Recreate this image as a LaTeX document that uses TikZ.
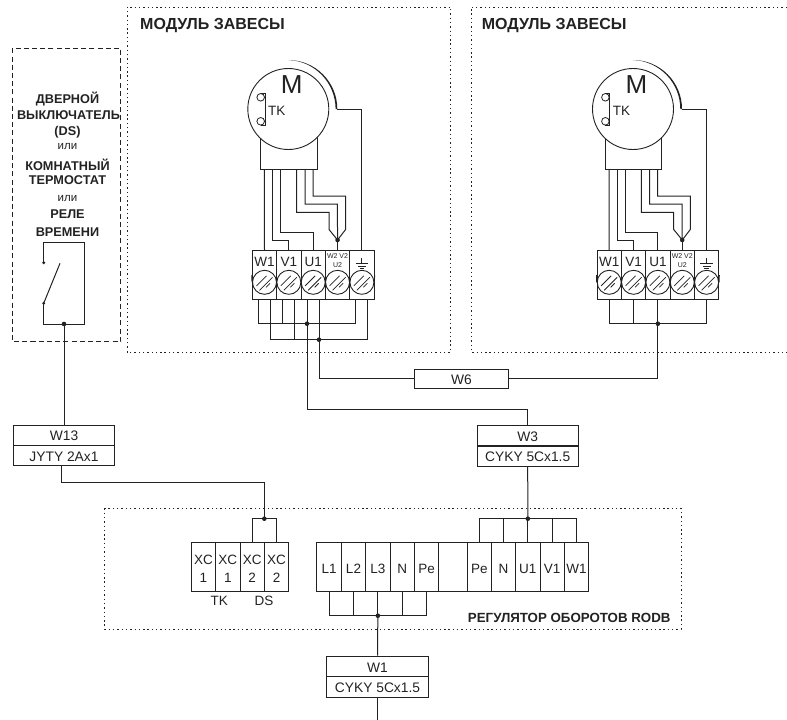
\documentclass[tikz,border=0pt]{standalone}
\usepackage{fontspec}
\setmainfont{Liberation Sans}
\usetikzlibrary{calc}
\definecolor{ink}{HTML}{222222}
\tikzset{
  wire/.style={draw=ink,line width=1pt,line join=miter},
  dotline/.style={draw=ink,line width=0.8pt,dash pattern=on 1.4pt off 2.9pt},
  dashbox/.style={draw=ink,line width=0.9pt,dash pattern=on 5pt off 3.2pt},
  cell/.style={draw=ink,line width=1pt,rectangle,minimum width=24.35pt,minimum height=48.6pt,inner sep=0pt},
  ctext/.style={label={[inner sep=0pt,text=ink,align=center,font=\fontsize{13.5}{18}\selectfont,yshift=-1.6pt]center:#1}},
  capcell/.style={draw=ink,line width=1pt,rectangle,minimum width=101.4pt,minimum height=20.4pt,inner sep=0pt},
  captext/.style={label={[inner sep=0pt,text=ink,font=\fontsize{13.8}{15}\selectfont,yshift=-1pt]center:#1}},
  jdot/.style={circle,fill=ink,minimum size=4.6pt,inner sep=0pt},
  sdot/.style={circle,fill=ink,minimum size=3.2pt,inner sep=0pt},
  txt/.style={inner sep=0pt,text=ink},
  boldtxt/.style={inner sep=0pt,text=ink,font=\bfseries\fontsize{12.7}{14}\selectfont},
  headtxt/.style={inner sep=0pt,text=ink,anchor=west,font=\bfseries\fontsize{16}{18}\selectfont},
  screw/.style={circle,draw=ink,line width=0.9pt,minimum size=24pt,inner sep=0pt},
  slash/.style={draw=ink,line width=0.75pt},
}
% #1 = name prefix, #2 = x shift
\newcommand{\curtainmodule}[2]{%
\begin{scope}[xshift=#2pt]
  % motor
  \draw[wire,fill=white] (260.3,136) -- (260.3,169.3) -- (317,169.3) -- (317,136);
  \node[circle,draw=ink,line width=0.9pt,fill=white,minimum size=81pt,inner sep=0pt] (#1motor) at (288.3,109) {};
  \node[txt,font=\fontsize{26}{26}\selectfont] (#1M) at (291.7,84.3) {M};
  \node[txt,font=\fontsize{13.5}{14}\selectfont] (#1TK) at (276.7,110.7) {TK};
  \node[circle,draw=ink,line width=0.8pt,minimum size=7.6pt,inner sep=0pt] (#1tka) at (260.7,97.3) {};
  \node[circle,draw=ink,line width=0.8pt,minimum size=7.6pt,inner sep=0pt] (#1tkb) at (260.7,121.3) {};
  \draw[wire] (#1tka.north) -- ++(4.3,0) -- ($(#1tkb.south)+(4.3,0)$) -- (#1tkb.south);
  \fill[ink] (288.3,60) arc[start angle=90,end angle=0,radius=49pt] -- (335.6,109) .. controls (335.6,83) and (315,61) .. cycle;
  % terminal block
  \node[cell,ctext={}] (#1a) at (264.5,275) {};
  \node[cell] (#1b) at (288.85,275) {};
  \node[cell] (#1c) at (313.2,275) {};
  \node[cell] (#1d) at (337.55,275) {};
  \node[cell] (#1e) at (361.9,275) {};
  \node[txt,font=\fontsize{13.5}{15}\selectfont] at (264.5,262) {W1};
  \node[txt,font=\fontsize{13.5}{15}\selectfont] at (288.85,262) {V1};
  \node[txt,font=\fontsize{13.5}{15}\selectfont] at (313.2,262) {U1};
  \node[txt,font=\fontsize{7}{9}\selectfont,align=center] at (337.55,260.5) {W2 V2\\U2};
  \draw[wire] (361.9,258) -- (361.9,263.5) (355.6,263.5) -- (368.2,263.5);
  \draw[wire] (357.9,266) -- (365.9,266) (359.6,268.5) -- (364.2,268.5);
  \foreach \n in {a,b,c,d,e}{
    \node[screw] (#1s\n) at ($(#1\n.center)+(0,7.3)$) {};
    \draw[slash] ($(#1s\n.center)+(-8,3.5)$) -- ($(#1s\n.center)+(2,-6.5)$);
    \draw[slash] ($(#1s\n.center)+(-5,8)$) -- ($(#1s\n.center)+(8,-5)$);
    \draw[slash] ($(#1s\n.center)+(1.5,5)$) -- ($(#1s\n.center)+(5.5,1)$);
  }
  \draw[wire] (#1sa.west) -- (#1a.west) (#1sa.east) -- (#1sb.west) (#1sb.east) -- (#1sc.west) (#1sc.east) -- (#1sd.west) (#1sd.east) -- (#1se.west) (#1se.east) -- (#1e.east);
  % internal wires
  \draw[wire] (264.3,169.3) -- (#1a.north);
  \draw[wire] (272.3,169.3) |- (288.85,240.7) -- (#1b.north);
  \draw[wire] (280.3,169.3) |- (313.2,232.7) -- (#1c.north);
  \node[jdot] (#1jd) at (337.55,240) {};
  \draw[wire] (#1jd.center) -- (#1d.north);
  \draw[wire] (296.7,169.3) |- (329,212.3) -- (329,229.5) -- (#1jd.center);
  \draw[wire] (305,169.3) |- (337.4,204) -- (#1jd.center);
  \draw[wire] (313,169.3) |- (345.6,196) -- (345.6,229.5) -- (#1jd.center);
  \draw[wire] (337.3,109) -- (361.9,109) -- (#1e.north);
\end{scope}}
\begin{document}
\begin{tikzpicture}[x=1pt,y=-1pt]
\useasboundingbox (0,0) rectangle (787,720);
% dotted frames
\draw[dotline] (127,352) -- (127,7) -- (450.7,7) -- (450.7,352) -- cycle;
\draw[dotline] (787,7) -- (471,7) -- (471,352) -- (787,352);
\draw[dotline] (104.7,508.3) rectangle (681,629);
\draw[dashbox] (12.3,48.3) rectangle (120.7,341.7);
\node[headtxt] (h1) at (140,26) {МОДУЛЬ ЗАВЕСЫ};
\node[headtxt] (h2) at (481.7,26) {МОДУЛЬ ЗАВЕСЫ};
\node[inner sep=0pt,text=ink,anchor=east,font=\bfseries\fontsize{13.3}{14}\selectfont] (h3) at (670.7,618.3) {РЕГУЛЯТОР ОБОРОТОВ RODB};
% left box text
\node[boldtxt] (t1) at (67.5,99) {ДВЕРНОЙ};
\node[boldtxt] (t2) at (68.5,115) {ВЫКЛЮЧАТЕЛЬ};
\node[boldtxt] (t3) at (67.5,132.7) {(DS)};
\node[txt,font=\fontsize{11.5}{13}\selectfont] (t4) at (67.5,147) {или};
\node[boldtxt] (t5) at (67.5,165) {КОМНАТНЫЙ};
\node[boldtxt] (t6) at (67.5,180) {ТЕРМОСТАТ};
\node[txt,font=\fontsize{11.5}{13}\selectfont] (t7) at (67.5,199) {или};
\node[boldtxt] (t8) at (67.5,214) {РЕЛЕ};
\node[boldtxt] (t9) at (67.5,231.7) {ВРЕМЕНИ};
% relay
\node[sdot] (ra) at (43.7,262.7) {};
\node[sdot] (rb) at (43.7,303.3) {};
\node[jdot] (rj) at (64,324) {};
\coordinate (rs) at (60,263.3);
\draw[wire] (ra.center) |- (84,242.7) |- (rj.center);
\draw[wire] (rb.center) |- (rj.center);
\draw[wire] (rb.center) -- (rs);
% modules
\curtainmodule{p}{0}
\curtainmodule{q}{344.7}
% module 1 outgoing buses
\node[jdot] (pj1) at (307,323.7) {};
\node[jdot] (pj2) at (319,339.7) {};
\draw[wire] ([xshift=-6.2pt]pa.south) |- (pj1.center);
\draw[wire] ([xshift=-6.2pt]pb.south) -- ++(0,24.5);
\draw[wire] ([xshift=-6.2pt]pc.south) -- (pj1.center);
\draw[wire] ([xshift=-6.2pt]pe.south) |- (pj1.center);
\draw[wire] ([xshift=5.8pt]pa.south) |- (pj2.center);
\draw[wire] ([xshift=5.8pt]pb.south) -- ++(0,40.5);
\draw[wire] ([xshift=5.8pt]pc.south) -- (pj2.center);
\draw[wire] ([xshift=5.8pt]pe.south) |- (pj2.center);
% module 2 bus
\node[jdot] (qj) at (657.9,323.7) {};
\draw[wire] (qa.south) |- (qj.center);
\draw[wire] (qb.south) -- ++(0,24.5);
\draw[wire] (qc.south) -- (qj.center);
\draw[wire] (qe.south) |- (qj.center);
% cable boxes
\node[capcell,captext=W13] (w13a) at (64,435.2) {};
\node[capcell,captext={JYTY 2Ax1}] (w13b) at (64,455.6) {};
\node[capcell,captext=W3] (w3a) at (527.7,435.9) {};
\node[capcell,captext={CYKY 5Cx1.5}] (w3b) at (527.7,456) {};
\node[capcell,captext=W1] (w1a) at (377.5,666.3) {};
\node[capcell,captext={CYKY 5Cx1.5}] (w1b) at (377.5,686.8) {};
\node[capcell,minimum width=94.4pt,minimum height=19pt,captext=W6] (w6) at (461.5,378.8) {};
\coordinate (endw1) at (377.5,720);
\draw[wire] (rj.center) -- (w13a.north);
\draw[wire] (pj2.center) |- (w6.west);
\draw[wire] (w6.east) -| (qj.center);
\draw[wire] (pj1.center) |- (527.7,409) -- (w3a.north);
\draw[wire] (w1b.south) -- (endw1);
% XC terminals
\node[cell,ctext={XC\\1}] (xa) at (203.5,567) {};
\node[cell,ctext={XC\\1}] (xb) at (227.85,567) {};
\node[cell,ctext={XC\\2}] (xc) at (252.2,567) {};
\node[cell,ctext={XC\\2}] (xd) at (276.55,567) {};
\node[txt,font=\fontsize{13.5}{15}\selectfont] (tk) at (219.3,601) {TK};
\node[txt,font=\fontsize{13.5}{15}\selectfont] (ds) at (264,601) {DS};
\node[jdot] (xj) at (264.3,518.7) {};
\draw[wire] (xc.north) |- (xj.center);
\draw[wire] (xd.north) |- (xj.center);
\draw[wire] ([xshift=-2.3pt]w13b.south) |- (264.3,482) -- (xj.center);
% L terminals
\node[cell,ctext=L1] (l1) at (329.15,567) {};
\node[cell,ctext=L2] (l2) at (353.5,567) {};
\node[cell,ctext=L3] (l3) at (377.85,567) {};
\node[cell,ctext=N] (ln) at (402.2,567) {};
\node[cell,ctext=Pe] (lp) at (426.55,567) {};
\node[cell,minimum width=28.6pt] (lb) at (453,567) {};
\node[cell,ctext=Pe] (rp) at (479.35,567) {};
\node[cell,ctext=N] (rn) at (503.6,567) {};
\node[cell,ctext=U1] (ru) at (527.85,567) {};
\node[cell,ctext=V1] (rv) at (552.2,567) {};
\node[cell,ctext=W1] (rw) at (576.55,567) {};
\node[jdot] (lj) at (377.85,615.7) {};
\draw[wire] (l1.south) |- (lj.center);
\draw[wire] (l2.south) -- ++(0,24.4);
\draw[wire] (l3.south) -- (lj.center);
\draw[wire] (ln.south) -- ++(0,24.4);
\draw[wire] (lp.south) |- (lj.center);
\draw[wire] (lj.center) -- (w1a.north);
\node[jdot] (uj) at (527.85,518.7) {};
\draw[wire] (rp.north) |- (uj.center);
\draw[wire] (rn.north) -- ++(0,-24);
\draw[wire] (ru.north) -- (uj.center);
\draw[wire] (rv.north) -- ++(0,-24);
\draw[wire] (rw.north) |- (uj.center);
\draw[wire] (w3b.south) -- (uj.center);
\end{tikzpicture}
\end{document}
